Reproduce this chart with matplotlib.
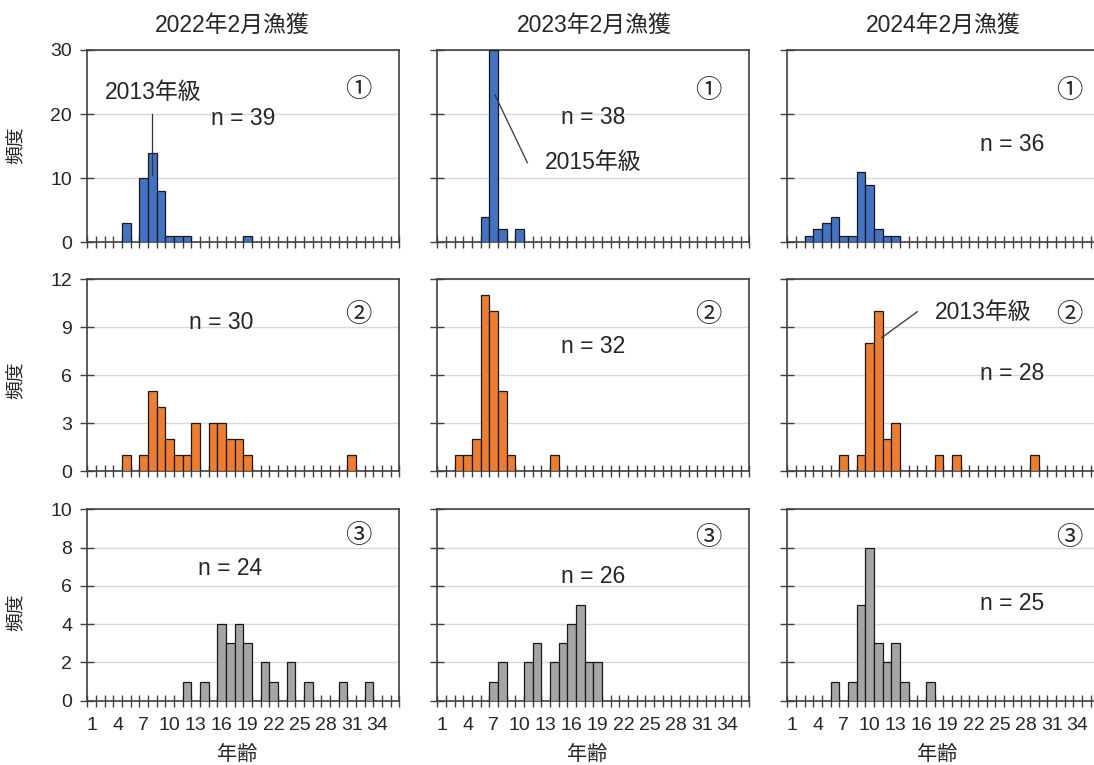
import numpy as np
import matplotlib.pyplot as plt

plt.rcParams['font.family'] = ['Liberation Sans', 'Noto Sans CJK JP']

# catch year per column, sea area per row
years = ['2022年2月漁獲', '2023年2月漁獲', '2024年2月漁獲']
areas = ['①', '②', '③']
ages = np.arange(1, 37)
age_labels = np.arange(1, 35, 3)

# area 1
ages_2022_1 = [5, 7, 8, 9, 10, 11, 12, 19]
freq_2022_1 = [3, 10, 14, 8, 1, 1, 1, 1]
ages_2023_1 = [6, 7, 8, 10]
freq_2023_1 = [4, 30, 2, 2]
ages_2024_1 = [3, 4, 5, 6, 7, 8, 9, 10, 11, 12, 13]
freq_2024_1 = [1, 2, 3, 4, 1, 1, 11, 9, 2, 1, 1]

# area 2
ages_2022_2 = [5, 7, 8, 9, 10, 11, 12, 13, 15, 16, 17, 18, 19, 31]
freq_2022_2 = [1, 1, 5, 4, 2, 1, 1, 3, 3, 3, 2, 2, 1, 1]
ages_2023_2 = [3, 4, 5, 6, 7, 8, 9, 14]
freq_2023_2 = [1, 1, 2, 11, 10, 5, 1, 1]
ages_2024_2 = [7, 9, 10, 11, 12, 13, 18, 20, 29]
freq_2024_2 = [1, 1, 8, 10, 2, 3, 1, 1, 1]

# area 3
ages_2022_3 = [12, 14, 16, 17, 18, 19, 21, 22, 24, 26, 30, 33]
freq_2022_3 = [1, 1, 4, 3, 4, 3, 2, 1, 2, 1, 1, 1]
ages_2023_3 = [7, 8, 11, 12, 14, 15, 16, 17, 18, 19]
freq_2023_3 = [1, 2, 2, 3, 2, 3, 4, 5, 2, 2]
ages_2024_3 = [6, 8, 9, 10, 11, 12, 13, 14, 17]
freq_2024_3 = [1, 1, 5, 8, 3, 2, 3, 1, 1]

panels = [
    [(ages_2022_1, freq_2022_1), (ages_2023_1, freq_2023_1), (ages_2024_1, freq_2024_1)],
    [(ages_2022_2, freq_2022_2), (ages_2023_2, freq_2023_2), (ages_2024_2, freq_2024_2)],
    [(ages_2022_3, freq_2022_3), (ages_2023_3, freq_2023_3), (ages_2024_3, freq_2024_3)],
]

row_colors = ['#4472C4', '#ED7D31', '#A5A5A5']
y_max = [30, 12, 10]
y_step = [10, 3, 2]

# text placement inside each panel (axes fraction)
n_pos = [
    [(0.499, 0.646), (0.499, 0.651), (0.722, 0.511)],
    [(0.429, 0.774), (0.501, 0.648), (0.722, 0.506)],
    [(0.459, 0.692), (0.501, 0.648), (0.722, 0.509)],
]
area_pos = [
    [(0.868, 0.793), (0.868, 0.789), (0.903, 0.787)],
    [(0.868, 0.814), (0.868, 0.814), (0.903, 0.814)],
    [(0.868, 0.860), (0.868, 0.852), (0.903, 0.852)],
]

# year-class callouts: (row, col, label, text xy, line start, line end)
callouts = [
    (0, 0, '2013年級', (8.1, 23.4), (8.0, 20.0), (8.0, 10.5)),
    (0, 1, '2015年級', (18.5, 12.5), (7.15, 23.0), (10.9, 12.4)),
    (1, 2, '2013年級', (23.1, 9.9), (11.4, 8.35), (15.5, 9.97)),
]

W, H = 1094, 765
fig = plt.figure(figsize=(W / 100, H / 100), dpi=100)

col_left = [87.3, 437.3, 787.3]
row_top = [50, 279.3, 509.3]
row_bottom = [242.3, 471, 700.7]
ax_w = 312

text_color = '#262626'
frame_color = '#404040'

axes = [[None] * 3 for _ in range(3)]
for r in range(3):
    for c in range(3):
        ax = fig.add_axes([col_left[c] / W, 1 - row_bottom[r] / H,
                           ax_w / W, (row_bottom[r] - row_top[r]) / H])
        axes[r][c] = ax
        a, f = panels[r][c]
        ax.bar(a, f, width=1.0, color=row_colors[r], edgecolor='#1a1a1a',
               linewidth=0.9, zorder=3)

        ax.set_xlim(0.5, 36.5)
        ax.set_ylim(0, y_max[r])
        ax.set_yticks(np.arange(0, y_max[r] + 1, y_step[r]))
        ax.yaxis.grid(True, color='#d9d9d9', linewidth=1.0, zorder=0)
        ax.set_axisbelow(True)

        ax.set_xticks(age_labels)
        ax.set_xticks(np.arange(0.5, 37, 1), minor=True)
        ax.tick_params(axis='x', which='major', length=0, pad=12,
                       labelsize=14, labelcolor=text_color)
        ax.tick_params(axis='x', which='minor', direction='inout', length=8,
                       width=1.0, color=frame_color)
        ax.tick_params(axis='y', direction='inout', length=10, width=1.0,
                       color=frame_color, pad=6, labelsize=14,
                       labelcolor=text_color)
        if r < 2:
            ax.tick_params(axis='x', which='major', labelbottom=False)
        if c > 0:
            ax.tick_params(axis='y', labelleft=False)

        for s in ax.spines.values():
            s.set_color(frame_color)
            s.set_linewidth(1.2)

        ax.text(*n_pos[r][c], f'n = {sum(f)}', transform=ax.transAxes,
                ha='center', va='center', fontsize=16.5, color=text_color)
        ax.text(*area_pos[r][c], areas[r], transform=ax.transAxes,
                ha='center', va='center', fontsize=19, color=text_color)

for r, c, label, txy, p0, p1 in callouts:
    ax = axes[r][c]
    ax.plot([p0[0], p1[0]], [p0[1], p1[1]], color='#333333', linewidth=0.9,
            zorder=4)
    ax.text(*txy, label, ha='center', va='center', fontsize=16.5,
            color=text_color, zorder=5)

# column titles, shared axis titles
for x, t in zip([232, 594, 943], years):
    fig.text(x / W, 1 - 25 / H, t, ha='center', va='center', fontsize=16.5,
             color=text_color)
for y in [145, 380, 612]:
    fig.text(17 / W, 1 - y / H, '頻度', ha='center', va='center', rotation=90,
             fontsize=13.5, color=text_color)
for x in col_left:
    fig.text((x + ax_w / 2 - 6) / W, 1 - 755 / H, '年齢', ha='center',
             va='center', fontsize=14.5, color=text_color)

fig.savefig('out.png', dpi=100)
